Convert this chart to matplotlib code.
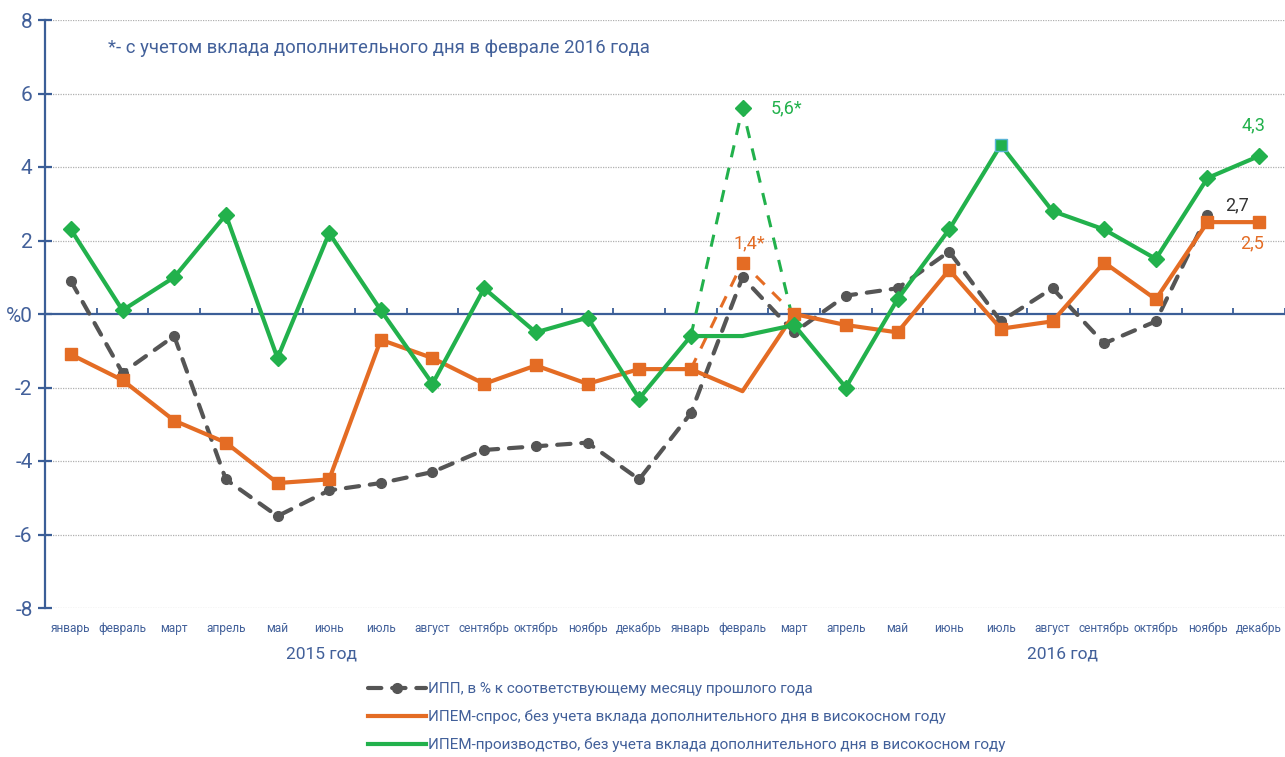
import matplotlib
matplotlib.use("Agg")
import matplotlib.pyplot as plt
from matplotlib.lines import Line2D
import numpy as np

plt.rcParams['font.family'] = ['Roboto', 'DejaVu Sans']

months = ["январь", "февраль", "март", "апрель", "май", "июнь", "июль",
          "август", "сентябрь", "октябрь", "ноябрь", "декабрь"] * 2
years = ["2015 год", "2016 год"]

# ИПП, % к соответствующему месяцу прошлого года (дек. 2016 нет)
ipp = [0.9, -1.6, -0.6, -4.5, -5.5, -4.8, -4.6, -4.3, -3.7, -3.6, -3.5, -4.5,
       -2.7, 1.0, -0.5, 0.5, 0.7, 1.7, -0.2, 0.7, -0.8, -0.2, 2.7, np.nan]
# ИПЕМ-спрос
demand = [-1.1, -1.8, -2.9, -3.5, -4.6, -4.5, -0.7, -1.2, -1.9, -1.4, -1.9, -1.5,
          -1.5, -2.1, 0.0, -0.3, -0.5, 1.2, -0.4, -0.2, 1.4, 0.4, 2.5, 2.5]
# ИПЕМ-производство
prod = [2.3, 0.1, 1.0, 2.7, -1.2, 2.2, 0.1, -1.9, 0.7, -0.5, -0.1, -2.3,
        -0.6, -0.6, -0.3, -2.0, 0.4, 2.3, 4.6, 2.8, 2.3, 1.5, 3.7, 4.3]
# с учетом дополнительного дня (февраль 2016)
feb_idx = 13
demand_leap = 1.4
prod_leap = 5.6

yticks = [8, 6, 4, 2, 0, -2, -4, -6, -8]
yticklabels = ["8", "6", "4", "2", "%0", "-2", "-4", "-6", "-8"]

GRAY = "#555555"
ORANGE = "#e46c24"
GREEN = "#22b14c"
BLUE = "#3b5e97"
TXT = "#42609a"

fig = plt.figure(figsize=(12.85, 7.57), dpi=100)
ax = fig.add_axes([45 / 1285, 1 - 608 / 757, 1 - 45 / 1285, (608 - 20) / 757])

x = np.arange(len(months))

# grid
for yv in yticks:
    if yv != 0:
        ax.axhline(yv, color="#b0b0b0", lw=0.9, ls=(0, (1, 1)), zorder=0)

# dashed "leap day" variants
ax.plot([feb_idx - 1, feb_idx, feb_idx + 1], [demand[feb_idx - 1], demand_leap, demand[feb_idx + 1]],
        color=ORANGE, lw=2.2, dashes=(4, 3.5), zorder=2)
ax.plot([feb_idx - 1, feb_idx, feb_idx + 1], [prod[feb_idx - 1], prod_leap, prod[feb_idx + 1]],
        color=GREEN, lw=2.2, dashes=(4, 3.5), zorder=2)

# ИПП
l1, = ax.plot(x, ipp, color=GRAY, lw=3, dashes=(3.2, 2.6), dash_capstyle="round",
              marker="o", ms=7, zorder=3)
# ИПЕМ-спрос
mk = [i for i in range(len(x)) if i != feb_idx]
l2, = ax.plot(x, demand, color=ORANGE, lw=3, marker="s", ms=9, markevery=mk, zorder=4)
ax.plot(feb_idx, demand_leap, color=ORANGE, marker="s", ms=9, zorder=4)
# ИПЕМ-производство
mk2 = [i for i in range(len(x)) if i not in (feb_idx, 18)]
l3, = ax.plot(x, prod, color=GREEN, lw=3, marker="D", ms=8, markevery=mk2, zorder=5)
ax.plot(feb_idx, prod_leap, color=GREEN, marker="D", ms=8, zorder=5)
ax.plot(18, prod[18], color=GREEN, marker="s", ms=8, mec="#5ab4d6", mew=1, zorder=6)

# value labels
ax.annotate("5,6*", (feb_idx, prod_leap), xytext=(20, 0), textcoords="offset points",
            color=GREEN, fontsize=13, va="center", ha="left")
ax.annotate("1,4*", (feb_idx, demand_leap), xytext=(5, 14), textcoords="offset points",
            color=ORANGE, fontsize=13, va="center", ha="center")
ax.annotate("2,7", (22, ipp[22]), xytext=(21, 7), textcoords="offset points",
            color="#333333", fontsize=13, va="center", ha="center")
ax.annotate("2,5", (23, demand[23]), xytext=(-5, -15), textcoords="offset points",
            color=ORANGE, fontsize=13, va="center", ha="center")
ax.annotate("4,3", (23, prod[23]), xytext=(-4, 22), textcoords="offset points",
            color=GREEN, fontsize=13, va="center", ha="center")

ax.text((108 - 45) / (1285 - 45), 1 - (48 - 20) / 588,
        "*- с учетом вклада дополнительного дня в феврале 2016 года",
        transform=ax.transAxes, color=TXT, fontsize=13.3, va="center", ha="left")

# axes styling
ax.set_xlim(-0.5, len(months) - 0.5)
ax.set_ylim(-8, 8)
ax.set_yticks(yticks)
ax.set_yticklabels(yticklabels)
ax.tick_params(axis="y", direction="inout", length=10, width=1.6, color=BLUE,
               labelcolor=TXT, labelsize=15, pad=4)
ax.set_xticks(np.arange(len(months) + 1) - 0.5)
ax.set_xticklabels([])
ax.tick_params(axis="x", direction="in", length=4, width=1.3, color=BLUE)
for s in ("top", "right"):
    ax.spines[s].set_visible(False)
ax.spines["bottom"].set_position(("data", 0))
ax.spines["bottom"].set_color(BLUE)
ax.spines["bottom"].set_linewidth(1.6)
ax.spines["bottom"].set_zorder(1)
ax.spines["left"].set_color(BLUE)
ax.spines["left"].set_linewidth(1.6)

for i, m in enumerate(months):
    ax.text(i, -8.55, m, color=TXT, fontsize=8.6, ha="center", va="center")
ax.text(4.85, -9.25, years[0], color=TXT, fontsize=12.5, ha="center", va="center")
ax.text(19.2, -9.25, years[1], color=TXT, fontsize=12.5, ha="center", va="center")

h1 = Line2D([], [], color=GRAY, lw=3, dashes=(3.2, 2.6), dash_capstyle="round", marker="o", ms=7)
h2 = Line2D([], [], color=ORANGE, lw=3)
h3 = Line2D([], [], color=GREEN, lw=3)
fig.legend([h1, h2, h3],
           ["ИПП, в % к соответствующему месяцу прошлого года",
            "ИПЕМ-спрос, без учета вклада дополнительного дня в високосном году",
            "ИПЕМ-производство, без учета вклада дополнительного дня в високосном году"],
           loc="upper left", bbox_to_anchor=(368 / 1285, 1 - 682 / 757), frameon=False,
           handlelength=3.8, handletextpad=0.1, labelspacing=0.9, fontsize=11,
           labelcolor=TXT, borderaxespad=0, borderpad=0)

fig.savefig("out.png", dpi=100)
